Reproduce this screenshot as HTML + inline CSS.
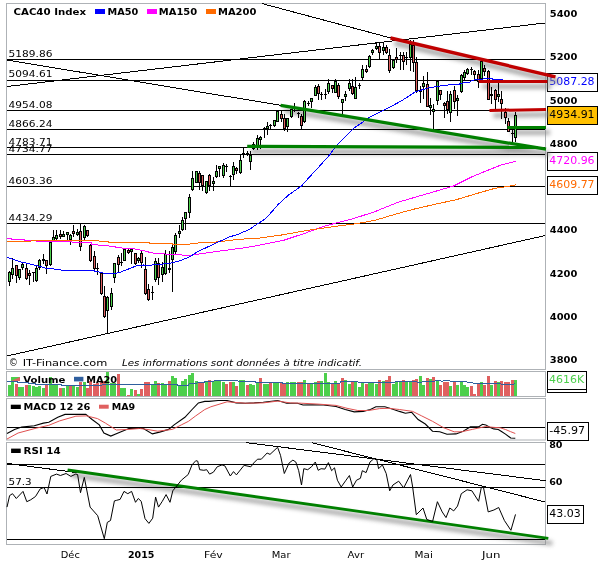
<!DOCTYPE html>
<html><head><meta charset="utf-8"><title>CAC40 Index</title>
<style>html,body{margin:0;padding:0;background:#fff;overflow:hidden;} svg{display:block;font-family:"DejaVu Sans","Liberation Sans",Verdana,sans-serif;}</style>
</head><body>
<svg width="609" height="564" viewBox="0 0 609 564">
<rect x="6.5" y="3.5" width="539" height="366" fill="#fff" stroke="#aeb2b6"/>
<rect x="6.5" y="371.5" width="539" height="25" fill="#fff" stroke="#aeb2b6"/>
<rect x="6.5" y="398.5" width="539" height="41.5" fill="#fff" stroke="#aeb2b6"/>
<rect x="6.5" y="442.5" width="539" height="102" fill="#fff" stroke="#aeb2b6"/>
<g font-family="DejaVu Sans, Verdana, sans-serif">
<text x="549.8" y="16.8" font-size="9.4" font-weight="bold" fill="#000" textLength="27.5" lengthAdjust="spacingAndGlyphs">5400</text>
<text x="549.8" y="60.1" font-size="9.4" font-weight="bold" fill="#000" textLength="27.5" lengthAdjust="spacingAndGlyphs">5200</text>
<text x="549.8" y="103.5" font-size="9.4" font-weight="bold" fill="#000" textLength="27.5" lengthAdjust="spacingAndGlyphs">5000</text>
<text x="549.8" y="147.0" font-size="9.4" font-weight="bold" fill="#000" textLength="27.5" lengthAdjust="spacingAndGlyphs">4800</text>
<text x="549.8" y="233.0" font-size="9.4" font-weight="bold" fill="#000" textLength="27.5" lengthAdjust="spacingAndGlyphs">4400</text>
<text x="549.8" y="276.5" font-size="9.4" font-weight="bold" fill="#000" textLength="27.5" lengthAdjust="spacingAndGlyphs">4200</text>
<text x="549.8" y="319.8" font-size="9.4" font-weight="bold" fill="#000" textLength="27.5" lengthAdjust="spacingAndGlyphs">4000</text>
<text x="549.8" y="363.2" font-size="9.4" font-weight="bold" fill="#000" textLength="27.5" lengthAdjust="spacingAndGlyphs">3800</text>
<rect x="547.5" y="73.5" width="50.0" height="18.0" fill="#fff" stroke="#000" stroke-width="1"/>
<text x="549.3" y="85.1" font-size="9.6" font-weight="normal" fill="#0000ff" textLength="45.3" lengthAdjust="spacingAndGlyphs">5087.28</text>
<rect x="547.5" y="106.5" width="50.0" height="18.0" fill="#ffc000" stroke="#000" stroke-width="1"/>
<text x="549.3" y="118.1" font-size="9.6" font-weight="normal" fill="#000" textLength="45.3" lengthAdjust="spacingAndGlyphs">4934.91</text>
<rect x="547.5" y="152.5" width="50.0" height="18.0" fill="#fff" stroke="#000" stroke-width="1"/>
<text x="549.3" y="164.1" font-size="9.6" font-weight="normal" fill="#ff00ff" textLength="45.3" lengthAdjust="spacingAndGlyphs">4720.96</text>
<rect x="547.5" y="176.5" width="50.0" height="18.0" fill="#fff" stroke="#000" stroke-width="1"/>
<text x="549.3" y="188.1" font-size="9.6" font-weight="normal" fill="#ff6a00" textLength="45.3" lengthAdjust="spacingAndGlyphs">4609.77</text>
</g>
<defs><filter id="sh" x="-10%" y="-50%" width="120%" height="300%"><feGaussianBlur stdDeviation="2.2"/></filter></defs>
<g filter="url(#sh)" opacity="0.75">
<line x1="394.5" y1="43.0" x2="559.5" y2="81.8" stroke="#888" stroke-width="4.9" />
<line x1="482.9" y1="86.5" x2="551.3" y2="86.5" stroke="#888" stroke-width="4.5" />
<line x1="493.5" y1="115.5" x2="550.0" y2="114.4" stroke="#888" stroke-width="4.5" />
<line x1="284.6" y1="110.4" x2="550.0" y2="154.2" stroke="#888" stroke-width="4.7" />
<line x1="251.2" y1="151.4" x2="541.5" y2="152.4" stroke="#888" stroke-width="4.7" />
<line x1="511.4" y1="132.5" x2="550.0" y2="132.5" stroke="#888" stroke-width="4.5" />
<line x1="71.6" y1="475.0" x2="552.3" y2="543.3" stroke="#888" stroke-width="4.3" />
</g>
<line x1="7" y1="59.5" x2="545" y2="59.5" stroke="#000" stroke-width="1" shape-rendering="crispEdges"/>
<line x1="7" y1="80.5" x2="545" y2="80.5" stroke="#000" stroke-width="1" shape-rendering="crispEdges"/>
<line x1="7" y1="110.5" x2="545" y2="110.5" stroke="#000" stroke-width="1" shape-rendering="crispEdges"/>
<line x1="7" y1="129.5" x2="545" y2="129.5" stroke="#000" stroke-width="1" shape-rendering="crispEdges"/>
<line x1="7" y1="147.5" x2="545" y2="147.5" stroke="#000" stroke-width="1" shape-rendering="crispEdges"/>
<line x1="7" y1="154.5" x2="545" y2="154.5" stroke="#000" stroke-width="1" shape-rendering="crispEdges"/>
<line x1="7" y1="186.5" x2="545" y2="186.5" stroke="#000" stroke-width="1" shape-rendering="crispEdges"/>
<line x1="7" y1="223.5" x2="545" y2="223.5" stroke="#000" stroke-width="1" shape-rendering="crispEdges"/>
<line x1="261.7" y1="3.5" x2="390.5" y2="37.9" stroke="#000" stroke-width="1" shape-rendering="crispEdges"/>
<line x1="7" y1="86.5" x2="545" y2="23.0" stroke="#000" stroke-width="1" shape-rendering="crispEdges"/>
<line x1="7" y1="60.0" x2="280.6" y2="105.3" stroke="#000" stroke-width="1" shape-rendering="crispEdges"/>
<line x1="7" y1="356.0" x2="545" y2="235.6" stroke="#000" stroke-width="1" shape-rendering="crispEdges"/>
<g font-family="DejaVu Sans, Verdana, sans-serif">
<text x="8.6" y="56.8" font-size="9.5" font-weight="normal" fill="#000" textLength="43.8" lengthAdjust="spacingAndGlyphs">5189.86</text>
<text x="8.6" y="77.4" font-size="9.5" font-weight="normal" fill="#000" textLength="43.8" lengthAdjust="spacingAndGlyphs">5094.61</text>
<text x="8.6" y="107.8" font-size="9.5" font-weight="normal" fill="#000" textLength="43.8" lengthAdjust="spacingAndGlyphs">4954.08</text>
<text x="8.6" y="126.7" font-size="9.5" font-weight="normal" fill="#000" textLength="43.8" lengthAdjust="spacingAndGlyphs">4866.24</text>
<text x="8.6" y="144.8" font-size="9.5" font-weight="normal" fill="#000" textLength="43.8" lengthAdjust="spacingAndGlyphs">4783.71</text>
<text x="8.6" y="152.2" font-size="9.5" font-weight="normal" fill="#000" textLength="43.8" lengthAdjust="spacingAndGlyphs">4734.77</text>
<text x="8.6" y="184.0" font-size="9.5" font-weight="normal" fill="#000" textLength="43.8" lengthAdjust="spacingAndGlyphs">4603.36</text>
<text x="8.6" y="220.9" font-size="9.5" font-weight="normal" fill="#000" textLength="43.8" lengthAdjust="spacingAndGlyphs">4434.29</text>
</g>
<g shape-rendering="crispEdges"><line x1="9.5" y1="270.9" x2="9.5" y2="285.5" stroke="#000" stroke-width="1"/><rect x="8.0" y="272.2" width="3" height="9.3" fill="#000"/><rect x="9.0" y="273.2" width="1" height="7.3" fill="#4ccf4c"/><line x1="12.5" y1="257.6" x2="12.5" y2="278.8" stroke="#000" stroke-width="1"/><rect x="11.0" y="268.2" width="3" height="6.6" fill="#000"/><rect x="12.0" y="269.2" width="1" height="4.6" fill="#4ccf4c"/><line x1="16.5" y1="265.3" x2="16.5" y2="282.8" stroke="#000" stroke-width="1"/><rect x="15.0" y="265.3" width="3" height="10.9" fill="#000"/><rect x="16.0" y="266.3" width="1" height="8.9" fill="#e06060"/><line x1="19.5" y1="268.9" x2="19.5" y2="280.2" stroke="#000" stroke-width="1"/><rect x="18.0" y="268.9" width="3" height="8.6" fill="#000"/><rect x="19.0" y="269.9" width="1" height="6.6" fill="#4ccf4c"/><line x1="22.5" y1="262.0" x2="22.5" y2="270.0" stroke="#000" stroke-width="1"/><rect x="21.0" y="264.2" width="3" height="4.0" fill="#000"/><rect x="22.0" y="265.2" width="1" height="2.0" fill="#4ccf4c"/><line x1="26.5" y1="264.2" x2="26.5" y2="280.2" stroke="#000" stroke-width="1"/><rect x="25.0" y="267.5" width="3" height="11.3" fill="#000"/><rect x="26.0" y="268.5" width="1" height="9.3" fill="#e06060"/><line x1="29.5" y1="269.5" x2="29.5" y2="284.8" stroke="#000" stroke-width="1"/><rect x="28.0" y="273.4" width="3" height="3.0" fill="#000"/><rect x="29.0" y="274.4" width="1" height="1.0" fill="#e06060"/><line x1="33.5" y1="272.2" x2="33.5" y2="281.5" stroke="#000" stroke-width="1"/><rect x="32.0" y="272.1" width="3" height="1" fill="#000"/><line x1="36.5" y1="266.2" x2="36.5" y2="281.5" stroke="#000" stroke-width="1"/><rect x="35.0" y="268.2" width="3" height="12.6" fill="#000"/><rect x="36.0" y="269.2" width="1" height="10.6" fill="#4ccf4c"/><line x1="39.5" y1="258.9" x2="39.5" y2="269.5" stroke="#000" stroke-width="1"/><rect x="38.0" y="260.2" width="3" height="7.3" fill="#000"/><rect x="39.0" y="261.2" width="1" height="5.3" fill="#4ccf4c"/><line x1="43.5" y1="254.2" x2="43.5" y2="263.5" stroke="#000" stroke-width="1"/><rect x="42.0" y="258.5" width="3" height="2" fill="#000"/><line x1="46.5" y1="260.2" x2="46.5" y2="273.5" stroke="#000" stroke-width="1"/><rect x="45.0" y="260.2" width="3" height="6.0" fill="#000"/><rect x="46.0" y="261.2" width="1" height="4.0" fill="#e06060"/><line x1="50.5" y1="241.6" x2="50.5" y2="265.6" stroke="#000" stroke-width="1"/><rect x="49.0" y="242.3" width="3" height="22.6" fill="#000"/><rect x="50.0" y="243.3" width="1" height="20.6" fill="#4ccf4c"/><line x1="53.5" y1="230.3" x2="53.5" y2="242.0" stroke="#000" stroke-width="1"/><rect x="52.0" y="237.3" width="3" height="3.7" fill="#000"/><rect x="53.0" y="238.3" width="1" height="1.7" fill="#4ccf4c"/><line x1="56.5" y1="230.0" x2="56.5" y2="240.0" stroke="#000" stroke-width="1"/><rect x="55.0" y="234.6" width="3" height="4.7" fill="#000"/><rect x="56.0" y="235.6" width="1" height="2.7" fill="#4ccf4c"/><line x1="60.5" y1="230.0" x2="60.5" y2="238.6" stroke="#000" stroke-width="1"/><rect x="59.0" y="233.9" width="3" height="3.0" fill="#000"/><rect x="60.0" y="234.9" width="1" height="1.0" fill="#e06060"/><line x1="63.5" y1="231.2" x2="63.5" y2="237.0" stroke="#000" stroke-width="1"/><rect x="62.0" y="233.8" width="3" height="3.0" fill="#000"/><rect x="63.0" y="234.8" width="1" height="1.0" fill="#4ccf4c"/><line x1="67.5" y1="232.5" x2="67.5" y2="239.7" stroke="#000" stroke-width="1"/><rect x="66.0" y="232.4" width="3" height="3.0" fill="#000"/><rect x="67.0" y="233.4" width="1" height="1.0" fill="#4ccf4c"/><line x1="70.5" y1="234.1" x2="70.5" y2="244.7" stroke="#000" stroke-width="1"/><rect x="69.0" y="235.4" width="3" height="4.6" fill="#000"/><rect x="70.0" y="236.4" width="1" height="2.6" fill="#4ccf4c"/><line x1="73.5" y1="225.0" x2="73.5" y2="236.8" stroke="#000" stroke-width="1"/><rect x="72.0" y="230.7" width="3" height="3.0" fill="#000"/><rect x="73.0" y="231.7" width="1" height="1.0" fill="#e06060"/><line x1="77.5" y1="229.3" x2="77.5" y2="235.7" stroke="#000" stroke-width="1"/><rect x="76.0" y="231.9" width="3" height="3.0" fill="#000"/><rect x="77.0" y="232.9" width="1" height="1.0" fill="#4ccf4c"/><line x1="80.5" y1="224.0" x2="80.5" y2="250.6" stroke="#000" stroke-width="1"/><rect x="79.0" y="230.6" width="3" height="16.5" fill="#000"/><rect x="80.0" y="231.6" width="1" height="14.5" fill="#e06060"/><line x1="84.5" y1="225.0" x2="84.5" y2="239.7" stroke="#000" stroke-width="1"/><rect x="83.0" y="226.1" width="3" height="12.3" fill="#000"/><rect x="84.0" y="227.1" width="1" height="10.3" fill="#4ccf4c"/><line x1="87.5" y1="229.5" x2="87.5" y2="236.6" stroke="#000" stroke-width="1"/><rect x="86.0" y="230.4" width="3" height="5.6" fill="#000"/><rect x="87.0" y="231.4" width="1" height="3.6" fill="#e06060"/><line x1="90.5" y1="244.0" x2="90.5" y2="262.0" stroke="#000" stroke-width="1"/><rect x="89.0" y="244.6" width="3" height="16.6" fill="#000"/><rect x="90.0" y="245.6" width="1" height="14.6" fill="#e06060"/><line x1="94.5" y1="250.6" x2="94.5" y2="271.2" stroke="#000" stroke-width="1"/><rect x="93.0" y="255.9" width="3" height="13.3" fill="#000"/><rect x="94.0" y="256.9" width="1" height="11.3" fill="#e06060"/><line x1="97.5" y1="263.2" x2="97.5" y2="274.5" stroke="#000" stroke-width="1"/><rect x="96.0" y="267.7" width="3" height="1" fill="#000"/><line x1="101.5" y1="273.0" x2="101.5" y2="294.5" stroke="#000" stroke-width="1"/><rect x="100.0" y="273.3" width="3" height="20.6" fill="#000"/><rect x="101.0" y="274.3" width="1" height="18.6" fill="#e06060"/><line x1="104.5" y1="285.9" x2="104.5" y2="317.8" stroke="#000" stroke-width="1"/><rect x="103.0" y="295.9" width="3" height="20.6" fill="#000"/><rect x="104.0" y="296.9" width="1" height="18.6" fill="#e06060"/><line x1="107.5" y1="295.9" x2="107.5" y2="333.8" stroke="#000" stroke-width="1"/><rect x="106.0" y="296.6" width="3" height="14.6" fill="#000"/><rect x="107.0" y="297.6" width="1" height="12.6" fill="#4ccf4c"/><line x1="111.5" y1="288.0" x2="111.5" y2="309.9" stroke="#000" stroke-width="1"/><rect x="110.0" y="293.2" width="3" height="13.3" fill="#000"/><rect x="111.0" y="294.2" width="1" height="11.3" fill="#4ccf4c"/><line x1="114.5" y1="262.6" x2="114.5" y2="282.5" stroke="#000" stroke-width="1"/><rect x="113.0" y="263.2" width="3" height="14.7" fill="#000"/><rect x="114.0" y="264.2" width="1" height="12.7" fill="#4ccf4c"/><line x1="118.5" y1="254.6" x2="118.5" y2="273.2" stroke="#000" stroke-width="1"/><rect x="117.0" y="256.6" width="3" height="8.6" fill="#000"/><rect x="118.0" y="257.6" width="1" height="6.6" fill="#e06060"/><line x1="121.5" y1="253.3" x2="121.5" y2="265.9" stroke="#000" stroke-width="1"/><rect x="120.0" y="262.1" width="3" height="1" fill="#000"/><line x1="124.5" y1="248.6" x2="124.5" y2="261.0" stroke="#000" stroke-width="1"/><rect x="123.0" y="249.3" width="3" height="11.3" fill="#000"/><rect x="124.0" y="250.3" width="1" height="9.3" fill="#4ccf4c"/><line x1="128.5" y1="249.3" x2="128.5" y2="253.9" stroke="#000" stroke-width="1"/><rect x="127.0" y="250.3" width="3" height="3.0" fill="#000"/><rect x="128.0" y="251.3" width="1" height="1.0" fill="#e06060"/><line x1="131.5" y1="248.6" x2="131.5" y2="263.9" stroke="#000" stroke-width="1"/><rect x="130.0" y="249.0" width="3" height="3.2" fill="#000"/><rect x="131.0" y="250.0" width="1" height="1.2" fill="#4ccf4c"/><line x1="135.5" y1="252.6" x2="135.5" y2="264.6" stroke="#000" stroke-width="1"/><rect x="134.0" y="253.3" width="3" height="10.6" fill="#000"/><rect x="135.0" y="254.3" width="1" height="8.6" fill="#e06060"/><line x1="138.5" y1="256.6" x2="138.5" y2="263.2" stroke="#000" stroke-width="1"/><rect x="137.0" y="258.4" width="3" height="3.0" fill="#000"/><rect x="138.0" y="259.4" width="1" height="1.0" fill="#4ccf4c"/><line x1="141.5" y1="249.9" x2="141.5" y2="267.9" stroke="#000" stroke-width="1"/><rect x="140.0" y="253.3" width="3" height="9.3" fill="#000"/><rect x="141.0" y="254.3" width="1" height="7.3" fill="#e06060"/><line x1="145.5" y1="257.3" x2="145.5" y2="294.5" stroke="#000" stroke-width="1"/><rect x="144.0" y="269.2" width="3" height="24.6" fill="#000"/><rect x="145.0" y="270.2" width="1" height="22.6" fill="#e06060"/><line x1="148.5" y1="283.9" x2="148.5" y2="300.9" stroke="#000" stroke-width="1"/><rect x="147.0" y="289.2" width="3" height="10.6" fill="#000"/><rect x="148.0" y="290.2" width="1" height="8.6" fill="#e06060"/><line x1="152.5" y1="285.8" x2="152.5" y2="299.8" stroke="#000" stroke-width="1"/><rect x="151.0" y="292.4" width="3" height="1" fill="#000"/><line x1="155.5" y1="257.9" x2="155.5" y2="281.7" stroke="#000" stroke-width="1"/><rect x="154.0" y="261.2" width="3" height="18.3" fill="#000"/><rect x="155.0" y="262.2" width="1" height="16.3" fill="#4ccf4c"/><line x1="158.5" y1="257.9" x2="158.5" y2="285.4" stroke="#000" stroke-width="1"/><rect x="157.0" y="262.9" width="3" height="15.5" fill="#000"/><rect x="158.0" y="263.9" width="1" height="13.5" fill="#e06060"/><line x1="162.5" y1="262.2" x2="162.5" y2="281.5" stroke="#000" stroke-width="1"/><rect x="161.0" y="266.8" width="3" height="7.8" fill="#000"/><rect x="162.0" y="267.8" width="1" height="5.8" fill="#4ccf4c"/><line x1="165.5" y1="250.2" x2="165.5" y2="274.6" stroke="#000" stroke-width="1"/><rect x="164.0" y="253.9" width="3" height="19.8" fill="#000"/><rect x="165.0" y="254.9" width="1" height="17.8" fill="#4ccf4c"/><line x1="169.5" y1="251.1" x2="169.5" y2="272.8" stroke="#000" stroke-width="1"/><rect x="168.0" y="267.8" width="3" height="2" fill="#000"/><line x1="172.5" y1="244.7" x2="172.5" y2="291.7" stroke="#000" stroke-width="1"/><rect x="171.0" y="247.0" width="3" height="13.3" fill="#000"/><rect x="172.0" y="248.0" width="1" height="11.3" fill="#4ccf4c"/><line x1="175.5" y1="233.2" x2="175.5" y2="254.5" stroke="#000" stroke-width="1"/><rect x="174.0" y="235.2" width="3" height="16.8" fill="#000"/><rect x="175.0" y="236.2" width="1" height="14.8" fill="#4ccf4c"/><line x1="179.5" y1="225.2" x2="179.5" y2="237.8" stroke="#000" stroke-width="1"/><rect x="178.0" y="231.1" width="3" height="3.0" fill="#000"/><rect x="179.0" y="232.1" width="1" height="1.0" fill="#4ccf4c"/><line x1="182.5" y1="217.2" x2="182.5" y2="230.5" stroke="#000" stroke-width="1"/><rect x="181.0" y="219.9" width="3" height="10.0" fill="#000"/><rect x="182.0" y="220.9" width="1" height="8.0" fill="#4ccf4c"/><line x1="185.5" y1="211.9" x2="185.5" y2="229.9" stroke="#000" stroke-width="1"/><rect x="184.0" y="212.2" width="3" height="6.6" fill="#000"/><rect x="185.0" y="213.2" width="1" height="4.6" fill="#4ccf4c"/><line x1="189.5" y1="194.2" x2="189.5" y2="217.8" stroke="#000" stroke-width="1"/><rect x="188.0" y="196.9" width="3" height="15.6" fill="#000"/><rect x="189.0" y="197.9" width="1" height="13.6" fill="#4ccf4c"/><line x1="192.5" y1="171.3" x2="192.5" y2="190.6" stroke="#000" stroke-width="1"/><rect x="191.0" y="177.9" width="3" height="12.0" fill="#000"/><rect x="192.0" y="178.9" width="1" height="10.0" fill="#4ccf4c"/><line x1="196.5" y1="170.6" x2="196.5" y2="183.2" stroke="#000" stroke-width="1"/><rect x="195.0" y="171.3" width="3" height="11.9" fill="#000"/><rect x="196.0" y="172.3" width="1" height="9.9" fill="#4ccf4c"/><line x1="199.5" y1="170.6" x2="199.5" y2="189.9" stroke="#000" stroke-width="1"/><rect x="198.0" y="172.6" width="3" height="10.0" fill="#000"/><rect x="199.0" y="173.6" width="1" height="8.0" fill="#e06060"/><line x1="202.5" y1="174.6" x2="202.5" y2="191.2" stroke="#000" stroke-width="1"/><rect x="201.0" y="174.6" width="3" height="11.3" fill="#000"/><rect x="202.0" y="175.6" width="1" height="9.3" fill="#e06060"/><line x1="206.5" y1="180.6" x2="206.5" y2="193.6" stroke="#000" stroke-width="1"/><rect x="205.0" y="180.6" width="3" height="12.6" fill="#000"/><rect x="206.0" y="181.6" width="1" height="10.6" fill="#4ccf4c"/><line x1="209.5" y1="173.9" x2="209.5" y2="191.2" stroke="#000" stroke-width="1"/><rect x="208.0" y="175.3" width="3" height="10.6" fill="#000"/><rect x="209.0" y="176.3" width="1" height="8.6" fill="#e06060"/><line x1="213.5" y1="177.3" x2="213.5" y2="190.6" stroke="#000" stroke-width="1"/><rect x="212.0" y="181.4" width="3" height="3.0" fill="#000"/><rect x="213.0" y="182.4" width="1" height="1.0" fill="#4ccf4c"/><line x1="216.5" y1="165.3" x2="216.5" y2="177.9" stroke="#000" stroke-width="1"/><rect x="215.0" y="170.6" width="3" height="6.7" fill="#000"/><rect x="216.0" y="171.6" width="1" height="4.7" fill="#4ccf4c"/><line x1="219.5" y1="166.0" x2="219.5" y2="176.6" stroke="#000" stroke-width="1"/><rect x="218.0" y="166.4" width="3" height="3.0" fill="#000"/><rect x="219.0" y="167.4" width="1" height="1.0" fill="#4ccf4c"/><line x1="223.5" y1="163.3" x2="223.5" y2="177.9" stroke="#000" stroke-width="1"/><rect x="222.0" y="165.3" width="3" height="10.6" fill="#000"/><rect x="223.0" y="166.3" width="1" height="8.6" fill="#4ccf4c"/><line x1="226.5" y1="164.0" x2="226.5" y2="172.0" stroke="#000" stroke-width="1"/><rect x="225.0" y="166.4" width="3" height="1" fill="#000"/><line x1="230.5" y1="174.6" x2="230.5" y2="185.9" stroke="#000" stroke-width="1"/><rect x="229.0" y="175.8" width="3" height="1" fill="#000"/><line x1="233.5" y1="162.0" x2="233.5" y2="180.0" stroke="#000" stroke-width="1"/><rect x="232.0" y="166.4" width="3" height="8.3" fill="#000"/><rect x="233.0" y="167.4" width="1" height="6.3" fill="#4ccf4c"/><line x1="236.5" y1="166.8" x2="236.5" y2="174.2" stroke="#000" stroke-width="1"/><rect x="235.0" y="168.0" width="3" height="3.0" fill="#000"/><rect x="236.0" y="169.0" width="1" height="1.0" fill="#e06060"/><line x1="240.5" y1="154.9" x2="240.5" y2="173.5" stroke="#000" stroke-width="1"/><rect x="239.0" y="160.2" width="3" height="12.6" fill="#000"/><rect x="240.0" y="161.2" width="1" height="10.6" fill="#4ccf4c"/><line x1="243.5" y1="147.6" x2="243.5" y2="157.5" stroke="#000" stroke-width="1"/><rect x="242.0" y="153.2" width="3" height="2" fill="#000"/><line x1="247.5" y1="150.9" x2="247.5" y2="155.5" stroke="#000" stroke-width="1"/><rect x="246.0" y="152.8" width="3" height="2" fill="#000"/><line x1="250.5" y1="150.9" x2="250.5" y2="169.5" stroke="#000" stroke-width="1"/><rect x="249.0" y="154.9" width="3" height="6.6" fill="#000"/><rect x="250.0" y="155.9" width="1" height="4.6" fill="#4ccf4c"/><line x1="253.5" y1="142.2" x2="253.5" y2="149.5" stroke="#000" stroke-width="1"/><rect x="252.0" y="144.2" width="3" height="5.0" fill="#000"/><rect x="253.0" y="145.2" width="1" height="3.0" fill="#4ccf4c"/><line x1="257.5" y1="134.9" x2="257.5" y2="150.2" stroke="#000" stroke-width="1"/><rect x="256.0" y="137.6" width="3" height="8.6" fill="#000"/><rect x="257.0" y="138.6" width="1" height="6.6" fill="#4ccf4c"/><line x1="260.5" y1="136.3" x2="260.5" y2="148.9" stroke="#000" stroke-width="1"/><rect x="259.0" y="136.8" width="3" height="3.0" fill="#000"/><rect x="260.0" y="137.8" width="1" height="1.0" fill="#4ccf4c"/><line x1="264.5" y1="127.0" x2="264.5" y2="137.6" stroke="#000" stroke-width="1"/><rect x="263.0" y="128.1" width="3" height="2" fill="#000"/><line x1="267.5" y1="122.3" x2="267.5" y2="134.8" stroke="#000" stroke-width="1"/><rect x="266.0" y="125.5" width="3" height="3.6" fill="#000"/><rect x="267.0" y="126.5" width="1" height="1.6" fill="#4ccf4c"/><line x1="270.5" y1="123.6" x2="270.5" y2="130.3" stroke="#000" stroke-width="1"/><rect x="269.0" y="125.3" width="3" height="1" fill="#000"/><line x1="274.5" y1="120.2" x2="274.5" y2="127.3" stroke="#000" stroke-width="1"/><rect x="273.0" y="120.2" width="3" height="5.3" fill="#000"/><rect x="274.0" y="121.2" width="1" height="3.3" fill="#4ccf4c"/><line x1="277.5" y1="110.4" x2="277.5" y2="122.4" stroke="#000" stroke-width="1"/><rect x="276.0" y="110.8" width="3" height="11.2" fill="#000"/><rect x="277.0" y="111.8" width="1" height="9.2" fill="#4ccf4c"/><line x1="281.5" y1="110.8" x2="281.5" y2="122.4" stroke="#000" stroke-width="1"/><rect x="280.0" y="114.2" width="3" height="4.4" fill="#000"/><rect x="281.0" y="115.2" width="1" height="2.4" fill="#e06060"/><line x1="284.5" y1="114.3" x2="284.5" y2="130.7" stroke="#000" stroke-width="1"/><rect x="283.0" y="117.5" width="3" height="11.8" fill="#000"/><rect x="284.0" y="118.5" width="1" height="9.8" fill="#e06060"/><line x1="287.5" y1="117.9" x2="287.5" y2="132.4" stroke="#000" stroke-width="1"/><rect x="286.0" y="118.3" width="3" height="8.2" fill="#000"/><rect x="287.0" y="119.3" width="1" height="6.2" fill="#4ccf4c"/><line x1="291.5" y1="108.9" x2="291.5" y2="117.6" stroke="#000" stroke-width="1"/><rect x="290.0" y="109.0" width="3" height="7.9" fill="#000"/><rect x="291.0" y="110.0" width="1" height="5.9" fill="#4ccf4c"/><line x1="294.5" y1="102.9" x2="294.5" y2="111.6" stroke="#000" stroke-width="1"/><rect x="293.0" y="110.1" width="3" height="1" fill="#000"/><line x1="298.5" y1="112.2" x2="298.5" y2="118.2" stroke="#000" stroke-width="1"/><rect x="297.0" y="113.4" width="3" height="1" fill="#000"/><line x1="301.5" y1="113.6" x2="301.5" y2="128.9" stroke="#000" stroke-width="1"/><rect x="300.0" y="116.2" width="3" height="10.0" fill="#000"/><rect x="301.0" y="117.2" width="1" height="8.0" fill="#e06060"/><line x1="304.5" y1="99.6" x2="304.5" y2="122.9" stroke="#000" stroke-width="1"/><rect x="303.0" y="100.9" width="3" height="21.3" fill="#000"/><rect x="304.0" y="101.9" width="1" height="19.3" fill="#4ccf4c"/><line x1="308.5" y1="101.0" x2="308.5" y2="105.6" stroke="#000" stroke-width="1"/><rect x="307.0" y="102.8" width="3" height="1" fill="#000"/><line x1="311.5" y1="98.3" x2="311.5" y2="107.6" stroke="#000" stroke-width="1"/><rect x="310.0" y="98.3" width="3" height="3.3" fill="#000"/><rect x="311.0" y="99.3" width="1" height="1.3" fill="#4ccf4c"/><line x1="315.5" y1="85.0" x2="315.5" y2="96.3" stroke="#000" stroke-width="1"/><rect x="314.0" y="87.0" width="3" height="9.3" fill="#000"/><rect x="315.0" y="88.0" width="1" height="7.3" fill="#4ccf4c"/><line x1="318.5" y1="84.3" x2="318.5" y2="99.6" stroke="#000" stroke-width="1"/><rect x="317.0" y="86.3" width="3" height="8.0" fill="#000"/><rect x="318.0" y="87.3" width="1" height="6.0" fill="#e06060"/><line x1="321.5" y1="91.6" x2="321.5" y2="100.0" stroke="#000" stroke-width="1"/><rect x="320.0" y="93.7" width="3" height="1" fill="#000"/><line x1="325.5" y1="88.5" x2="325.5" y2="99.1" stroke="#000" stroke-width="1"/><rect x="324.0" y="93.5" width="3" height="1" fill="#000"/><line x1="328.5" y1="78.5" x2="328.5" y2="93.8" stroke="#000" stroke-width="1"/><rect x="327.0" y="82.5" width="3" height="9.3" fill="#000"/><rect x="328.0" y="83.5" width="1" height="7.3" fill="#4ccf4c"/><line x1="332.5" y1="84.5" x2="332.5" y2="93.2" stroke="#000" stroke-width="1"/><rect x="331.0" y="84.5" width="3" height="4.7" fill="#000"/><rect x="332.0" y="85.5" width="1" height="2.7" fill="#e06060"/><line x1="335.5" y1="78.5" x2="335.5" y2="93.2" stroke="#000" stroke-width="1"/><rect x="334.0" y="81.2" width="3" height="11.3" fill="#000"/><rect x="335.0" y="82.2" width="1" height="9.3" fill="#4ccf4c"/><line x1="338.5" y1="82.5" x2="338.5" y2="98.5" stroke="#000" stroke-width="1"/><rect x="337.0" y="85.2" width="3" height="11.3" fill="#000"/><rect x="338.0" y="86.2" width="1" height="9.3" fill="#e06060"/><line x1="342.5" y1="98.5" x2="342.5" y2="114.8" stroke="#000" stroke-width="1"/><rect x="341.0" y="99.1" width="3" height="3.4" fill="#000"/><rect x="342.0" y="100.1" width="1" height="1.4" fill="#4ccf4c"/><line x1="345.5" y1="90.5" x2="345.5" y2="100.5" stroke="#000" stroke-width="1"/><rect x="344.0" y="93.5" width="3" height="3.0" fill="#000"/><rect x="345.0" y="94.5" width="1" height="1.0" fill="#4ccf4c"/><line x1="349.5" y1="79.2" x2="349.5" y2="90.5" stroke="#000" stroke-width="1"/><rect x="348.0" y="83.2" width="3" height="6.0" fill="#000"/><rect x="349.0" y="84.2" width="1" height="4.0" fill="#4ccf4c"/><line x1="352.5" y1="79.2" x2="352.5" y2="94.9" stroke="#000" stroke-width="1"/><rect x="351.0" y="85.7" width="3" height="7.8" fill="#000"/><rect x="352.0" y="86.7" width="1" height="5.8" fill="#e06060"/><line x1="355.5" y1="77.2" x2="355.5" y2="99.1" stroke="#000" stroke-width="1"/><rect x="354.0" y="87.2" width="3" height="11.3" fill="#000"/><rect x="355.0" y="88.2" width="1" height="9.3" fill="#4ccf4c"/><line x1="359.5" y1="83.2" x2="359.5" y2="88.5" stroke="#000" stroke-width="1"/><rect x="358.0" y="85.2" width="3" height="1" fill="#000"/><line x1="362.5" y1="64.6" x2="362.5" y2="79.9" stroke="#000" stroke-width="1"/><rect x="361.0" y="68.6" width="3" height="9.3" fill="#000"/><rect x="362.0" y="69.6" width="1" height="7.3" fill="#4ccf4c"/><line x1="366.5" y1="64.6" x2="366.5" y2="73.2" stroke="#000" stroke-width="1"/><rect x="365.0" y="68.7" width="3" height="3.0" fill="#000"/><rect x="366.0" y="69.7" width="1" height="1.0" fill="#e06060"/><line x1="369.5" y1="55.0" x2="369.5" y2="67.5" stroke="#000" stroke-width="1"/><rect x="368.0" y="55.5" width="3" height="11.5" fill="#000"/><rect x="369.0" y="56.5" width="1" height="9.5" fill="#4ccf4c"/><line x1="372.5" y1="48.6" x2="372.5" y2="55.3" stroke="#000" stroke-width="1"/><rect x="371.0" y="49.5" width="3" height="3.0" fill="#000"/><rect x="372.0" y="50.5" width="1" height="1.0" fill="#4ccf4c"/><line x1="376.5" y1="43.3" x2="376.5" y2="49.9" stroke="#000" stroke-width="1"/><rect x="375.0" y="46.2" width="3" height="3.1" fill="#000"/><rect x="376.0" y="47.2" width="1" height="1.1" fill="#4ccf4c"/><line x1="379.5" y1="43.3" x2="379.5" y2="59.3" stroke="#000" stroke-width="1"/><rect x="378.0" y="46.2" width="3" height="7.1" fill="#000"/><rect x="379.0" y="47.2" width="1" height="5.1" fill="#e06060"/><line x1="383.5" y1="43.3" x2="383.5" y2="54.6" stroke="#000" stroke-width="1"/><rect x="382.0" y="46.6" width="3" height="4.7" fill="#000"/><rect x="383.0" y="47.6" width="1" height="2.7" fill="#4ccf4c"/><line x1="386.5" y1="45.3" x2="386.5" y2="53.9" stroke="#000" stroke-width="1"/><rect x="385.0" y="47.3" width="3" height="5.3" fill="#000"/><rect x="386.0" y="48.3" width="1" height="3.3" fill="#e06060"/><line x1="389.5" y1="49.3" x2="389.5" y2="72.6" stroke="#000" stroke-width="1"/><rect x="388.0" y="54.6" width="3" height="16.0" fill="#000"/><rect x="389.0" y="55.6" width="1" height="14.0" fill="#e06060"/><line x1="393.5" y1="59.8" x2="393.5" y2="68.6" stroke="#000" stroke-width="1"/><rect x="392.0" y="60.3" width="3" height="7.6" fill="#000"/><rect x="393.0" y="61.3" width="1" height="5.6" fill="#4ccf4c"/><line x1="396.5" y1="48.0" x2="396.5" y2="63.2" stroke="#000" stroke-width="1"/><rect x="395.0" y="56.5" width="3" height="3.0" fill="#000"/><rect x="396.0" y="57.5" width="1" height="1.0" fill="#e06060"/><line x1="400.5" y1="51.9" x2="400.5" y2="69.9" stroke="#000" stroke-width="1"/><rect x="399.0" y="54.5" width="3" height="1" fill="#000"/><line x1="403.5" y1="51.9" x2="403.5" y2="69.9" stroke="#000" stroke-width="1"/><rect x="402.0" y="54.6" width="3" height="7.3" fill="#000"/><rect x="403.0" y="55.6" width="1" height="5.3" fill="#e06060"/><line x1="406.5" y1="51.9" x2="406.5" y2="64.6" stroke="#000" stroke-width="1"/><rect x="405.0" y="57.1" width="3" height="1" fill="#000"/><line x1="410.5" y1="40.0" x2="410.5" y2="71.2" stroke="#000" stroke-width="1"/><rect x="409.0" y="43.8" width="3" height="14.1" fill="#000"/><rect x="410.0" y="44.8" width="1" height="12.1" fill="#4ccf4c"/><line x1="413.5" y1="40.0" x2="413.5" y2="71.9" stroke="#000" stroke-width="1"/><rect x="412.0" y="45.0" width="3" height="17.6" fill="#000"/><rect x="413.0" y="46.0" width="1" height="15.6" fill="#e06060"/><line x1="416.5" y1="57.3" x2="416.5" y2="92.5" stroke="#000" stroke-width="1"/><rect x="415.0" y="61.9" width="3" height="29.3" fill="#000"/><rect x="416.0" y="62.9" width="1" height="27.3" fill="#e06060"/><line x1="420.5" y1="86.3" x2="420.5" y2="103.4" stroke="#000" stroke-width="1"/><rect x="419.0" y="90.2" width="3" height="2" fill="#000"/><line x1="423.5" y1="76.1" x2="423.5" y2="98.8" stroke="#000" stroke-width="1"/><rect x="422.0" y="83.2" width="3" height="4.2" fill="#000"/><rect x="423.0" y="84.2" width="1" height="2.2" fill="#4ccf4c"/><line x1="427.5" y1="71.9" x2="427.5" y2="107.2" stroke="#000" stroke-width="1"/><rect x="426.0" y="84.1" width="3" height="22.6" fill="#000"/><rect x="427.0" y="85.1" width="1" height="20.6" fill="#e06060"/><line x1="430.5" y1="98.0" x2="430.5" y2="115.0" stroke="#000" stroke-width="1"/><rect x="429.0" y="105.0" width="3" height="3.0" fill="#000"/><rect x="430.0" y="106.0" width="1" height="1.0" fill="#4ccf4c"/><line x1="433.5" y1="104.3" x2="433.5" y2="129.5" stroke="#000" stroke-width="1"/><rect x="432.0" y="108.7" width="3" height="3.3" fill="#000"/><rect x="433.0" y="109.7" width="1" height="1.3" fill="#4ccf4c"/><line x1="437.5" y1="80.5" x2="437.5" y2="105.4" stroke="#000" stroke-width="1"/><rect x="436.0" y="81.1" width="3" height="20.3" fill="#000"/><rect x="437.0" y="82.1" width="1" height="18.3" fill="#4ccf4c"/><line x1="440.5" y1="90.1" x2="440.5" y2="99.7" stroke="#000" stroke-width="1"/><rect x="439.0" y="90.4" width="3" height="5.0" fill="#000"/><rect x="440.0" y="91.4" width="1" height="3.0" fill="#e06060"/><line x1="444.5" y1="101.6" x2="444.5" y2="117.6" stroke="#000" stroke-width="1"/><rect x="443.0" y="103.0" width="3" height="3.3" fill="#000"/><rect x="444.0" y="104.0" width="1" height="1.3" fill="#e06060"/><line x1="447.5" y1="91.1" x2="447.5" y2="113.6" stroke="#000" stroke-width="1"/><rect x="446.0" y="101.4" width="3" height="8.6" fill="#000"/><rect x="447.0" y="102.4" width="1" height="6.6" fill="#e06060"/><line x1="450.5" y1="91.4" x2="450.5" y2="121.5" stroke="#000" stroke-width="1"/><rect x="449.0" y="94.1" width="3" height="18.9" fill="#000"/><rect x="450.0" y="95.1" width="1" height="16.9" fill="#4ccf4c"/><line x1="454.5" y1="86.1" x2="454.5" y2="108.6" stroke="#000" stroke-width="1"/><rect x="453.0" y="90.1" width="3" height="11.6" fill="#000"/><rect x="454.0" y="91.1" width="1" height="9.6" fill="#e06060"/><line x1="457.5" y1="95.0" x2="457.5" y2="115.5" stroke="#000" stroke-width="1"/><rect x="456.0" y="98.3" width="3" height="3.0" fill="#000"/><rect x="457.0" y="99.3" width="1" height="1.0" fill="#4ccf4c"/><line x1="461.5" y1="74.3" x2="461.5" y2="92.9" stroke="#000" stroke-width="1"/><rect x="460.0" y="75.3" width="3" height="16.9" fill="#000"/><rect x="461.0" y="76.3" width="1" height="14.9" fill="#4ccf4c"/><line x1="464.5" y1="70.3" x2="464.5" y2="80.9" stroke="#000" stroke-width="1"/><rect x="463.0" y="72.3" width="3" height="6.0" fill="#000"/><rect x="464.0" y="73.3" width="1" height="4.0" fill="#4ccf4c"/><line x1="467.5" y1="67.6" x2="467.5" y2="75.0" stroke="#000" stroke-width="1"/><rect x="466.0" y="69.0" width="3" height="5.3" fill="#000"/><rect x="467.0" y="70.0" width="1" height="3.3" fill="#4ccf4c"/><line x1="471.5" y1="67.0" x2="471.5" y2="75.0" stroke="#000" stroke-width="1"/><rect x="470.0" y="69.4" width="3" height="1" fill="#000"/><line x1="474.5" y1="69.6" x2="474.5" y2="79.6" stroke="#000" stroke-width="1"/><rect x="473.0" y="70.7" width="3" height="4.3" fill="#000"/><rect x="474.0" y="71.7" width="1" height="2.3" fill="#e06060"/><line x1="478.5" y1="69.6" x2="478.5" y2="87.6" stroke="#000" stroke-width="1"/><rect x="477.0" y="74.3" width="3" height="7.3" fill="#000"/><rect x="478.0" y="75.3" width="1" height="5.3" fill="#e06060"/><line x1="481.5" y1="60.3" x2="481.5" y2="79.6" stroke="#000" stroke-width="1"/><rect x="480.0" y="61.0" width="3" height="17.9" fill="#000"/><rect x="481.0" y="62.0" width="1" height="15.9" fill="#4ccf4c"/><line x1="484.5" y1="65.0" x2="484.5" y2="76.3" stroke="#000" stroke-width="1"/><rect x="483.0" y="67.6" width="3" height="4.0" fill="#000"/><rect x="484.0" y="68.6" width="1" height="2.0" fill="#e06060"/><line x1="488.5" y1="69.6" x2="488.5" y2="100.2" stroke="#000" stroke-width="1"/><rect x="487.0" y="71.0" width="3" height="28.5" fill="#000"/><rect x="488.0" y="72.0" width="1" height="26.5" fill="#e06060"/><line x1="491.5" y1="87.0" x2="491.5" y2="103.5" stroke="#000" stroke-width="1"/><rect x="490.0" y="93.8" width="3" height="2" fill="#000"/><line x1="495.5" y1="89.0" x2="495.5" y2="109.0" stroke="#000" stroke-width="1"/><rect x="494.0" y="89.5" width="3" height="10.8" fill="#000"/><rect x="495.0" y="90.5" width="1" height="8.8" fill="#e06060"/><line x1="498.5" y1="83.0" x2="498.5" y2="101.5" stroke="#000" stroke-width="1"/><rect x="497.0" y="93.6" width="3" height="3.4" fill="#000"/><rect x="498.0" y="94.6" width="1" height="1.4" fill="#4ccf4c"/><line x1="501.5" y1="91.0" x2="501.5" y2="119.2" stroke="#000" stroke-width="1"/><rect x="500.0" y="99.3" width="3" height="4.3" fill="#000"/><rect x="501.0" y="100.3" width="1" height="2.3" fill="#e06060"/><line x1="505.5" y1="108.3" x2="505.5" y2="123.6" stroke="#000" stroke-width="1"/><rect x="504.0" y="111.6" width="3" height="6.6" fill="#000"/><rect x="505.0" y="112.6" width="1" height="4.6" fill="#e06060"/><line x1="508.5" y1="117.6" x2="508.5" y2="132.2" stroke="#000" stroke-width="1"/><rect x="507.0" y="120.9" width="3" height="10.6" fill="#000"/><rect x="508.0" y="121.9" width="1" height="8.6" fill="#e06060"/><line x1="512.5" y1="128.9" x2="512.5" y2="142.8" stroke="#000" stroke-width="1"/><rect x="511.0" y="133.0" width="3" height="1" fill="#000"/><line x1="515.5" y1="111.6" x2="515.5" y2="141.5" stroke="#000" stroke-width="1"/><rect x="514.0" y="115.3" width="3" height="22.2" fill="#000"/><rect x="515.0" y="116.3" width="1" height="20.2" fill="#4ccf4c"/></g>
<polyline points="7.0,238.2 11.0,238.2 11.5,239.0 24.0,239.0 24.5,240.2 31.0,240.2 39.0,241.5 50.0,241.8 72.0,241.8 72.5,242.5 91.0,242.5 92.0,244.5 106.0,245.6 110.0,246.2 123.0,248.1 133.0,248.5 143.0,250.6 152.5,253.0 162.4,253.9 172.2,254.4 182.0,255.0 188.2,255.8 196.4,254.4 221.0,250.9 245.7,247.6 260.0,245.1 283.0,240.5 306.0,232.9 319.8,227.6 333.6,223.7 352.0,219.1 375.0,211.6 398.4,202.1 426.0,194.1 453.6,186.0 472.0,176.8 485.7,171.1 501.8,164.7 515.6,161.4" fill="none" stroke="#ff00ff" stroke-width="1" shape-rendering="crispEdges"/>
<polyline points="7.0,241.5 30.6,241.5 31.0,240.7 98.0,240.7 100.0,241.2 108.0,241.2 108.5,242.4 149.0,242.4 149.5,243.2 172.0,243.2 172.5,244.0 190.0,244.0 196.4,243.1 217.8,241.9 237.5,239.4 260.0,238.0 283.0,234.8 306.0,230.6 329.0,227.2 356.6,223.7 375.0,220.3 395.0,214.3 414.5,209.0 437.5,203.7 455.9,199.8 478.9,192.9 495.0,188.3 506.4,186.7 515.6,184.9" fill="none" stroke="#ff6a00" stroke-width="1" shape-rendering="crispEdges"/>
<polyline points="7.0,257.3 22.0,262.2 36.6,265.5 45.9,268.2 52.0,268.3 55.0,269.2 65.3,270.5 92.0,270.5 98.0,271.7 103.7,273.2 109.4,274.0 115.0,273.6 120.8,272.0 126.5,269.8 136.0,266.0 143.6,265.0 148.0,265.3 162.0,264.2 170.3,263.1 180.0,260.8 189.9,256.7 196.4,252.5 204.6,248.4 218.6,241.9 229.3,237.0 237.5,234.5 249.0,229.6 258.8,223.0 265.4,218.9 272.0,211.5 278.4,204.2 288.7,195.0 301.4,186.0 314.5,171.5 320.0,165.7 330.0,154.5 336.4,145.4 352.8,129.0 369.3,117.5 385.7,109.3 402.1,100.5 415.0,92.0 421.6,90.0 428.3,88.0 441.6,85.7 451.4,84.6 459.7,84.5 460.0,83.3 463.0,83.3 463.5,82.3 469.6,82.3 472.0,80.5 476.0,79.3 483.0,79.3 483.5,78.5 492.5,78.5 493.0,79.6 503.0,79.6" fill="none" stroke="#0000ff" stroke-width="1" shape-rendering="crispEdges"/>
<line x1="390.5" y1="38.0" x2="555.5" y2="76.8" stroke="#c00000" stroke-width="3.4" />
<line x1="478.9" y1="81.5" x2="547.3" y2="81.5" stroke="#c00000" stroke-width="3.0" />
<line x1="489.5" y1="110.5" x2="546.0" y2="109.4" stroke="#c00000" stroke-width="3.0" />
<line x1="280.6" y1="105.4" x2="546.0" y2="149.2" stroke="#008000" stroke-width="3.2" />
<line x1="247.2" y1="146.4" x2="537.5" y2="147.4" stroke="#008000" stroke-width="3.2" />
<line x1="507.4" y1="127.5" x2="546.0" y2="127.5" stroke="#008000" stroke-width="3.0" />
<g font-family="DejaVu Sans, Verdana, sans-serif">
<text x="13.5" y="15.2" font-size="9.4" font-weight="bold" fill="#000" textLength="72.5" lengthAdjust="spacingAndGlyphs">CAC40 Index</text>
<rect x="95" y="9" width="10" height="5" fill="#0000ff"/>
<text x="107.6" y="15.2" font-size="9.4" font-weight="bold" fill="#000" textLength="30.7" lengthAdjust="spacingAndGlyphs">MA50</text>
<rect x="147" y="9" width="10" height="5" fill="#ff00ff"/>
<text x="158.8" y="15.2" font-size="9.4" font-weight="bold" fill="#000" textLength="38.4" lengthAdjust="spacingAndGlyphs">MA150</text>
<rect x="206" y="9" width="10" height="5" fill="#ff6a00"/>
<text x="218" y="15.2" font-size="9.4" font-weight="bold" fill="#000" textLength="38.4" lengthAdjust="spacingAndGlyphs">MA200</text>
<text x="8.9" y="366.2" font-size="10.8" fill="#000"><tspan textLength="8.8" lengthAdjust="spacingAndGlyphs">©</tspan> <tspan x="22.7" font-size="9.5" textLength="84.7" lengthAdjust="spacingAndGlyphs">IT-Finance.com</tspan></text>
<text x="122" y="366.2" font-size="9.5" font-weight="normal" fill="#000" textLength="240" lengthAdjust="spacingAndGlyphs" font-style="italic">Les informations sont données à titre indicatif.</text>
</g>
<g shape-rendering="crispEdges"><rect x="8.0" y="384.8" width="3" height="11.2" fill="#4ccf4c"/><rect x="11.0" y="377.1" width="3" height="18.9" fill="#4ccf4c"/><rect x="15.0" y="384.1" width="3" height="11.9" fill="#e06060"/><rect x="18.0" y="387.0" width="3" height="9.0" fill="#4ccf4c"/><rect x="21.0" y="387.0" width="3" height="9.0" fill="#4ccf4c"/><rect x="25.0" y="385.0" width="3" height="11.0" fill="#e06060"/><rect x="28.0" y="385.0" width="3" height="11.0" fill="#4ccf4c"/><rect x="32.0" y="386.0" width="3" height="10.0" fill="#4ccf4c"/><rect x="35.0" y="386.5" width="3" height="9.5" fill="#4ccf4c"/><rect x="38.0" y="386.0" width="3" height="10.0" fill="#4ccf4c"/><rect x="42.0" y="388.0" width="3" height="8.0" fill="#4ccf4c"/><rect x="45.0" y="384.8" width="3" height="11.2" fill="#e06060"/><rect x="49.0" y="377.4" width="3" height="18.6" fill="#4ccf4c"/><rect x="52.0" y="384.8" width="3" height="11.2" fill="#4ccf4c"/><rect x="55.0" y="385.0" width="3" height="11.0" fill="#4ccf4c"/><rect x="59.0" y="388.4" width="3" height="7.6" fill="#e06060"/><rect x="62.0" y="388.1" width="3" height="7.9" fill="#4ccf4c"/><rect x="66.0" y="385.8" width="3" height="10.2" fill="#4ccf4c"/><rect x="69.0" y="385.8" width="3" height="10.2" fill="#e06060"/><rect x="72.0" y="385.8" width="3" height="10.2" fill="#4ccf4c"/><rect x="76.0" y="387.1" width="3" height="8.9" fill="#4ccf4c"/><rect x="79.0" y="381.8" width="3" height="14.2" fill="#e06060"/><rect x="83.0" y="381.8" width="3" height="14.2" fill="#4ccf4c"/><rect x="86.0" y="387.7" width="3" height="8.3" fill="#e06060"/><rect x="89.0" y="381.2" width="3" height="14.8" fill="#e06060"/><rect x="93.0" y="383.8" width="3" height="12.2" fill="#e06060"/><rect x="96.0" y="383.1" width="3" height="12.9" fill="#e06060"/><rect x="100.0" y="381.2" width="3" height="14.8" fill="#e06060"/><rect x="103.0" y="381.2" width="3" height="14.8" fill="#e06060"/><rect x="106.0" y="372.0" width="3" height="24.0" fill="#4ccf4c"/><rect x="110.0" y="382.5" width="3" height="13.5" fill="#4ccf4c"/><rect x="113.0" y="382.5" width="3" height="13.5" fill="#4ccf4c"/><rect x="117.0" y="374.0" width="3" height="22.0" fill="#e06060"/><rect x="120.0" y="387.7" width="3" height="8.3" fill="#4ccf4c"/><rect x="123.0" y="387.7" width="3" height="8.3" fill="#4ccf4c"/><rect x="127.0" y="395.0" width="3" height="1.0" fill="#e06060"/><rect x="130.0" y="389.0" width="3" height="7.0" fill="#4ccf4c"/><rect x="134.0" y="390.0" width="3" height="6.0" fill="#e06060"/><rect x="137.0" y="394.0" width="3" height="2.0" fill="#4ccf4c"/><rect x="140.0" y="389.0" width="3" height="7.0" fill="#e06060"/><rect x="144.0" y="382.1" width="3" height="13.9" fill="#e06060"/><rect x="147.0" y="382.1" width="3" height="13.9" fill="#e06060"/><rect x="151.0" y="384.7" width="3" height="11.3" fill="#4ccf4c"/><rect x="154.0" y="381.2" width="3" height="14.8" fill="#4ccf4c"/><rect x="157.0" y="382.9" width="3" height="13.1" fill="#e06060"/><rect x="161.0" y="383.1" width="3" height="12.9" fill="#4ccf4c"/><rect x="164.0" y="384.7" width="3" height="11.3" fill="#4ccf4c"/><rect x="168.0" y="381.2" width="3" height="14.8" fill="#e06060"/><rect x="171.0" y="375.9" width="3" height="20.1" fill="#4ccf4c"/><rect x="174.0" y="378.1" width="3" height="17.9" fill="#4ccf4c"/><rect x="178.0" y="384.7" width="3" height="11.3" fill="#4ccf4c"/><rect x="181.0" y="381.2" width="3" height="14.8" fill="#4ccf4c"/><rect x="184.0" y="379.2" width="3" height="16.8" fill="#4ccf4c"/><rect x="188.0" y="375.3" width="3" height="20.7" fill="#4ccf4c"/><rect x="191.0" y="373.3" width="3" height="22.7" fill="#4ccf4c"/><rect x="195.0" y="381.2" width="3" height="14.8" fill="#4ccf4c"/><rect x="198.0" y="381.5" width="3" height="14.5" fill="#e06060"/><rect x="201.0" y="381.8" width="3" height="14.2" fill="#e06060"/><rect x="205.0" y="381.8" width="3" height="14.2" fill="#4ccf4c"/><rect x="208.0" y="379.9" width="3" height="16.1" fill="#e06060"/><rect x="212.0" y="381.2" width="3" height="14.8" fill="#4ccf4c"/><rect x="215.0" y="380.8" width="3" height="15.2" fill="#4ccf4c"/><rect x="218.0" y="380.8" width="3" height="15.2" fill="#4ccf4c"/><rect x="222.0" y="382.1" width="3" height="13.9" fill="#4ccf4c"/><rect x="225.0" y="383.8" width="3" height="12.2" fill="#e06060"/><rect x="229.0" y="382.1" width="3" height="13.9" fill="#e06060"/><rect x="232.0" y="382.1" width="3" height="13.9" fill="#4ccf4c"/><rect x="235.0" y="386.0" width="3" height="10.0" fill="#e06060"/><rect x="239.0" y="379.9" width="3" height="16.1" fill="#4ccf4c"/><rect x="242.0" y="379.9" width="3" height="16.1" fill="#4ccf4c"/><rect x="246.0" y="385.1" width="3" height="10.9" fill="#e06060"/><rect x="249.0" y="383.8" width="3" height="12.2" fill="#4ccf4c"/><rect x="252.0" y="385.1" width="3" height="10.9" fill="#4ccf4c"/><rect x="256.0" y="382.9" width="3" height="13.1" fill="#4ccf4c"/><rect x="259.0" y="378.1" width="3" height="17.9" fill="#e06060"/><rect x="263.0" y="383.8" width="3" height="12.2" fill="#4ccf4c"/><rect x="266.0" y="383.8" width="3" height="12.2" fill="#4ccf4c"/><rect x="269.0" y="382.5" width="3" height="13.5" fill="#e06060"/><rect x="273.0" y="381.5" width="3" height="14.5" fill="#4ccf4c"/><rect x="276.0" y="382.5" width="3" height="13.5" fill="#4ccf4c"/><rect x="280.0" y="382.5" width="3" height="13.5" fill="#e06060"/><rect x="283.0" y="382.5" width="3" height="13.5" fill="#e06060"/><rect x="286.0" y="382.1" width="3" height="13.9" fill="#4ccf4c"/><rect x="290.0" y="382.1" width="3" height="13.9" fill="#4ccf4c"/><rect x="293.0" y="382.1" width="3" height="13.9" fill="#4ccf4c"/><rect x="297.0" y="382.1" width="3" height="13.9" fill="#e06060"/><rect x="300.0" y="382.1" width="3" height="13.9" fill="#e06060"/><rect x="303.0" y="379.9" width="3" height="16.1" fill="#4ccf4c"/><rect x="307.0" y="383.1" width="3" height="12.9" fill="#e06060"/><rect x="310.0" y="383.1" width="3" height="12.9" fill="#4ccf4c"/><rect x="314.0" y="382.1" width="3" height="13.9" fill="#4ccf4c"/><rect x="317.0" y="381.2" width="3" height="14.8" fill="#e06060"/><rect x="320.0" y="381.2" width="3" height="14.8" fill="#4ccf4c"/><rect x="324.0" y="372.9" width="3" height="23.1" fill="#4ccf4c"/><rect x="327.0" y="382.1" width="3" height="13.9" fill="#4ccf4c"/><rect x="331.0" y="382.5" width="3" height="13.5" fill="#e06060"/><rect x="334.0" y="381.2" width="3" height="14.8" fill="#4ccf4c"/><rect x="337.0" y="382.5" width="3" height="13.5" fill="#e06060"/><rect x="341.0" y="378.1" width="3" height="17.9" fill="#e06060"/><rect x="344.0" y="379.9" width="3" height="16.1" fill="#4ccf4c"/><rect x="348.0" y="383.8" width="3" height="12.2" fill="#4ccf4c"/><rect x="351.0" y="382.1" width="3" height="13.9" fill="#e06060"/><rect x="354.0" y="382.1" width="3" height="13.9" fill="#4ccf4c"/><rect x="358.0" y="387.1" width="3" height="8.9" fill="#4ccf4c"/><rect x="361.0" y="383.1" width="3" height="12.9" fill="#4ccf4c"/><rect x="365.0" y="384.2" width="3" height="11.8" fill="#e06060"/><rect x="368.0" y="383.1" width="3" height="12.9" fill="#4ccf4c"/><rect x="371.0" y="383.1" width="3" height="12.9" fill="#4ccf4c"/><rect x="375.0" y="383.8" width="3" height="12.2" fill="#4ccf4c"/><rect x="378.0" y="379.9" width="3" height="16.1" fill="#e06060"/><rect x="382.0" y="381.2" width="3" height="14.8" fill="#4ccf4c"/><rect x="385.0" y="379.9" width="3" height="16.1" fill="#e06060"/><rect x="388.0" y="375.9" width="3" height="20.1" fill="#e06060"/><rect x="392.0" y="383.8" width="3" height="12.2" fill="#4ccf4c"/><rect x="395.0" y="381.2" width="3" height="14.8" fill="#4ccf4c"/><rect x="399.0" y="381.2" width="3" height="14.8" fill="#4ccf4c"/><rect x="402.0" y="379.9" width="3" height="16.1" fill="#e06060"/><rect x="405.0" y="381.2" width="3" height="14.8" fill="#4ccf4c"/><rect x="409.0" y="381.2" width="3" height="14.8" fill="#4ccf4c"/><rect x="412.0" y="379.9" width="3" height="16.1" fill="#e06060"/><rect x="415.0" y="379.2" width="3" height="16.8" fill="#e06060"/><rect x="419.0" y="375.9" width="3" height="20.1" fill="#4ccf4c"/><rect x="422.0" y="385.1" width="3" height="10.9" fill="#4ccf4c"/><rect x="426.0" y="378.1" width="3" height="17.9" fill="#e06060"/><rect x="429.0" y="379.2" width="3" height="16.8" fill="#4ccf4c"/><rect x="432.0" y="377.2" width="3" height="18.8" fill="#e06060"/><rect x="436.0" y="380.5" width="3" height="15.5" fill="#4ccf4c"/><rect x="439.0" y="385.1" width="3" height="10.9" fill="#e06060"/><rect x="443.0" y="382.1" width="3" height="13.9" fill="#e06060"/><rect x="446.0" y="382.1" width="3" height="13.9" fill="#e06060"/><rect x="449.0" y="386.0" width="3" height="10.0" fill="#4ccf4c"/><rect x="453.0" y="382.1" width="3" height="13.9" fill="#e06060"/><rect x="456.0" y="385.1" width="3" height="10.9" fill="#4ccf4c"/><rect x="460.0" y="382.1" width="3" height="13.9" fill="#4ccf4c"/><rect x="463.0" y="385.1" width="3" height="10.9" fill="#4ccf4c"/><rect x="466.0" y="387.1" width="3" height="8.9" fill="#4ccf4c"/><rect x="470.0" y="386.0" width="3" height="10.0" fill="#e06060"/><rect x="473.0" y="394.0" width="3" height="2.0" fill="#e06060"/><rect x="477.0" y="383.8" width="3" height="12.2" fill="#e06060"/><rect x="480.0" y="382.1" width="3" height="13.9" fill="#4ccf4c"/><rect x="483.0" y="385.1" width="3" height="10.9" fill="#e06060"/><rect x="487.0" y="375.9" width="3" height="20.1" fill="#e06060"/><rect x="490.0" y="385.1" width="3" height="10.9" fill="#4ccf4c"/><rect x="494.0" y="381.2" width="3" height="14.8" fill="#e06060"/><rect x="497.0" y="382.1" width="3" height="13.9" fill="#4ccf4c"/><rect x="500.0" y="381.2" width="3" height="14.8" fill="#e06060"/><rect x="504.0" y="382.1" width="3" height="13.9" fill="#e06060"/><rect x="507.0" y="382.1" width="3" height="13.9" fill="#e06060"/><rect x="511.0" y="379.9" width="3" height="16.1" fill="#e06060"/><rect x="514.0" y="379.9" width="3" height="16.1" fill="#4ccf4c"/></g>
<path d="M11,377 H20 V381 H11 Z" fill="#4ccf4c"/><path d="M11,381 L20,377 V381 Z" fill="#e06060"/>
<rect x="74" y="376.8" width="9.4" height="4.6" fill="#2f5f9f"/>
<g font-family="DejaVu Sans, Verdana, sans-serif">
<text x="23.2" y="383.0" font-size="9.4" font-weight="bold" fill="#000" textLength="42.3" lengthAdjust="spacingAndGlyphs">Volume</text>
<text x="86.2" y="383.0" font-size="9.4" font-weight="bold" fill="#000" textLength="31" lengthAdjust="spacingAndGlyphs">MA20</text>
</g>
<polyline points="7.0,381.6 17.5,381.6 18.0,382.5 28.0,382.5 28.5,383.1 35.0,383.1 35.5,384.2 61.5,384.2 62.0,385.5 100.0,385.5 103.0,384.6 126.0,384.6 140.0,384.2 177.0,384.2 178.0,385.5 188.0,385.5 190.0,383.1 197.0,383.1 198.4,382.5 204.0,382.5 205.0,381.2 214.0,381.2 216.0,380.2 237.5,380.2 238.5,381.6 255.0,381.6 256.0,382.5 282.0,382.5 283.0,383.4 340.0,383.1 341.0,381.2 357.0,381.2 358.0,382.1 385.0,382.5 410.0,381.2 421.0,382.5 424.0,381.2 435.0,381.2 436.0,380.2 440.0,380.2 441.0,381.2 443.0,381.2 444.0,380.2 449.0,380.2 450.0,381.2 466.0,381.2 467.0,382.1 472.0,382.1 473.0,383.1 500.0,383.1 501.0,384.2 514.0,384.2 515.0,383.1" fill="none" stroke="#2f5f9f" stroke-width="1" shape-rendering="crispEdges"/>
<g font-family="DejaVu Sans, Verdana, sans-serif">
<rect x="547.5" y="371.5" width="39" height="21" fill="#fff" stroke="#000"/>
<line x1="547.5" y1="389.5" x2="586.5" y2="389.5" stroke="#000" stroke-width="1" />
<text x="549.1" y="382.8" font-size="9.6" font-weight="normal" fill="#4ccf4c" textLength="35.1" lengthAdjust="spacingAndGlyphs">4616K</text>
</g>
<line x1="7" y1="427.5" x2="545" y2="427.5" stroke="#000" stroke-width="1" shape-rendering="crispEdges"/>
<polyline points="7.0,433.6 14.5,429.4 21.7,427.1 34.3,425.8 43.4,423.1 48.8,422.2 57.8,417.3 65.0,414.4 77.7,414.4 85.8,414.4 92.1,419.5 99.3,424.9 103.9,433.0 110.8,436.1 118.1,433.0 128.9,428.5 136.1,428.2 143.4,428.5 152.4,433.9 159.6,432.1 168.6,429.4 174.1,424.9 184.9,417.3 192.1,409.5 198.4,402.9 204.8,401.4 209.0,401.4 218.1,400.5 227.1,400.5 236.1,402.9 245.2,403.2 254.2,402.9 263.2,402.3 277.7,400.5 286.7,403.2 297.5,403.2 303.0,405.0 312.6,404.7 323.5,405.0 336.1,406.5 345.2,409.5 354.2,411.9 363.2,411.4 370.4,409.5 375.9,406.8 384.9,406.8 392.1,409.0 399.4,411.4 405.4,413.2 411.7,412.3 418.1,419.5 425.3,424.0 432.5,431.2 439.7,431.8 447.0,434.3 456.0,433.9 463.2,431.2 470.4,426.9 478.5,426.9 482.5,424.3 485.8,424.9 489.7,427.3 493.7,428.9 498.3,429.5 501.5,431.5 505.5,434.1 510.7,438.0 515.3,438.3" fill="none" stroke="#000" stroke-width="1.1" />
<polyline points="7.0,439.0 18.1,433.0 36.1,428.2 48.8,425.3 59.6,420.9 75.9,416.2 86.7,415.9 97.5,418.6 105.4,423.1 116.3,430.0 128.9,429.4 139.7,428.5 147.0,429.4 157.8,431.2 172.3,429.4 181.3,424.9 188.5,421.3 195.7,415.9 204.8,409.5 210.8,406.8 227.1,401.8 245.2,403.2 263.2,402.9 277.7,401.1 290.3,402.9 301.2,403.2 318.1,404.1 336.1,405.4 347.0,408.3 357.8,410.5 368.6,410.5 379.5,408.6 388.5,408.3 399.4,409.5 412.6,411.4 421.7,415.9 432.5,421.3 443.4,427.6 454.2,431.8 461.4,431.8 472.3,429.4 477.9,428.2 485.8,426.5 493.0,427.3 500.2,427.8 505.5,429.5 510.7,431.7 515.3,433.5" fill="none" stroke="#e05050" stroke-width="1" />
<g font-family="DejaVu Sans, Verdana, sans-serif">
<rect x="10.8" y="404.7" width="10" height="4.3" fill="#000"/>
<text x="23.5" y="410.1" font-size="9.4" font-weight="bold" fill="#000" textLength="66.8" lengthAdjust="spacingAndGlyphs">MACD 12 26</text>
<rect x="99" y="404.7" width="9.7" height="4" fill="#e06060"/>
<text x="111.7" y="410.1" font-size="9.4" font-weight="bold" fill="#000" textLength="23.5" lengthAdjust="spacingAndGlyphs">MA9</text>
<rect x="547.5" y="422.5" width="41.0" height="18.0" fill="#fff" stroke="#000" stroke-width="1"/>
<text x="549.3" y="434.1" font-size="9.6" font-weight="normal" fill="#000" textLength="35.8" lengthAdjust="spacingAndGlyphs">-45.97</text>
</g>
<line x1="7" y1="464.5" x2="545" y2="464.5" stroke="#000" stroke-width="1" shape-rendering="crispEdges"/>
<line x1="7" y1="487.5" x2="545" y2="487.5" stroke="#000" stroke-width="1" shape-rendering="crispEdges"/>
<line x1="7" y1="539.5" x2="545" y2="539.5" stroke="#000" stroke-width="1" shape-rendering="crispEdges"/>
<line x1="7" y1="463.4" x2="76.7" y2="472.6" stroke="#000" stroke-width="1" shape-rendering="crispEdges"/>
<line x1="246" y1="442.6" x2="545.5" y2="480.7" stroke="#000" stroke-width="1" shape-rendering="crispEdges"/>
<line x1="311.5" y1="442.6" x2="545.5" y2="502.1" stroke="#000" stroke-width="1" shape-rendering="crispEdges"/>
<line x1="67.6" y1="470.0" x2="548.3" y2="538.3" stroke="#008000" stroke-width="2.8" />
<polyline points="7.0,507.1 9.6,495.6 12.5,493.7 16.3,498.5 23.0,491.4 26.8,501.7 30.7,499.8 35.5,496.5 40.2,488.9 44.1,487.5 47.0,494.0 50.8,476.4 56.5,474.1 60.4,475.5 66.1,473.5 70.9,476.4 75.7,474.1 77.6,474.5 80.5,492.7 84.3,477.4 90.1,507.1 97.7,515.7 104.3,538.7 107.3,522.4 110.5,520.5 114.4,500.9 116.3,500.4 120.1,499.4 124.0,491.4 127.8,493.7 131.6,491.4 135.5,502.3 138.3,498.5 141.2,501.3 145.0,518.6 148.9,523.4 152.7,518.2 155.6,497.1 158.5,507.1 162.3,501.3 166.1,494.6 170.0,502.3 172.8,490.8 176.7,486.0 181.4,480.2 188.2,474.5 192.0,464.9 195.8,460.7 197.7,461.1 199.7,469.7 203.8,470.3 206.7,469.7 209.6,474.1 213.4,472.2 217.2,466.8 222.0,464.9 224.9,465.9 230.3,476.0 233.5,471.6 236.4,474.9 244.1,465.3 250.8,466.8 253.7,463.0 257.5,459.2 261.3,459.2 267.1,453.0 270.0,454.4 277.6,447.3 280.5,455.3 284.3,473.5 289.1,463.0 292.9,460.1 295.8,462.0 298.7,470.7 301.5,485.0 303.8,468.7 307.7,469.7 311.5,466.8 315.3,462.0 318.2,470.3 321.1,468.7 324.9,469.1 328.4,462.6 331.6,470.7 334.5,467.8 337.4,480.2 341.2,487.0 346.0,480.2 349.4,475.5 352.7,487.0 356.5,480.2 360.4,478.3 362.3,470.7 366.1,472.6 370.0,462.0 373.8,458.8 376.7,459.2 378.6,468.7 382.4,464.9 386.2,473.5 389.7,490.8 392.9,485.0 398.7,481.2 403.7,487.9 410.5,474.5 412.5,486.0 416.3,514.7 423.0,508.0 426.8,519.5 432.6,521.4 437.4,501.7 442.2,511.9 446.0,517.6 449.8,508.0 453.7,510.9 457.5,506.1 461.3,493.7 467.1,489.8 471.9,490.8 478.6,501.3 481.4,487.0 483.4,487.0 488.2,511.9 493.9,510.0 498.7,507.5 504.4,520.5 510.9,530.3 515.5,514.4" fill="none" stroke="#000" stroke-width="1" />
<g font-family="DejaVu Sans, Verdana, sans-serif">
<rect x="11.1" y="448.6" width="9.6" height="4.4" fill="#000"/>
<text x="23.6" y="453.8" font-size="9.4" font-weight="bold" fill="#000" textLength="37" lengthAdjust="spacingAndGlyphs">RSI 14</text>
<text x="8.6" y="484.5" font-size="9.5" font-weight="normal" fill="#000" textLength="23" lengthAdjust="spacingAndGlyphs">57.3</text>
<text x="549.2" y="447.9" font-size="9.4" font-weight="bold" fill="#000" textLength="13.3" lengthAdjust="spacingAndGlyphs">80</text>
<text x="549.2" y="484.8" font-size="9.4" font-weight="bold" fill="#000" textLength="13.3" lengthAdjust="spacingAndGlyphs">60</text>
<rect x="547.5" y="505.5" width="36.0" height="18.0" fill="#fff" stroke="#000" stroke-width="1"/>
<text x="549.3" y="517.1" font-size="9.6" font-weight="normal" fill="#000" textLength="31.5" lengthAdjust="spacingAndGlyphs">43.03</text>
<text x="60.8" y="558.1" font-size="9.5" font-weight="normal" fill="#000" textLength="19" lengthAdjust="spacingAndGlyphs">Déc</text>
<text x="128" y="558.1" font-size="9.5" font-weight="bold" fill="#000" textLength="26.4" lengthAdjust="spacingAndGlyphs">2015</text>
<text x="204" y="558.1" font-size="9.5" font-weight="normal" fill="#000" textLength="18.8" lengthAdjust="spacingAndGlyphs">Fév</text>
<text x="271.7" y="558.1" font-size="9.5" font-weight="normal" fill="#000" textLength="18.8" lengthAdjust="spacingAndGlyphs">Mar</text>
<text x="347.6" y="558.1" font-size="9.5" font-weight="normal" fill="#000" textLength="16.5" lengthAdjust="spacingAndGlyphs">Avr</text>
<text x="414.5" y="558.1" font-size="9.5" font-weight="normal" fill="#000" textLength="18.3" lengthAdjust="spacingAndGlyphs">Mai</text>
<text x="482" y="558.1" font-size="9.5" font-weight="normal" fill="#000" textLength="18.4" lengthAdjust="spacingAndGlyphs">Jun</text>
</g>
</svg>
</body></html>
